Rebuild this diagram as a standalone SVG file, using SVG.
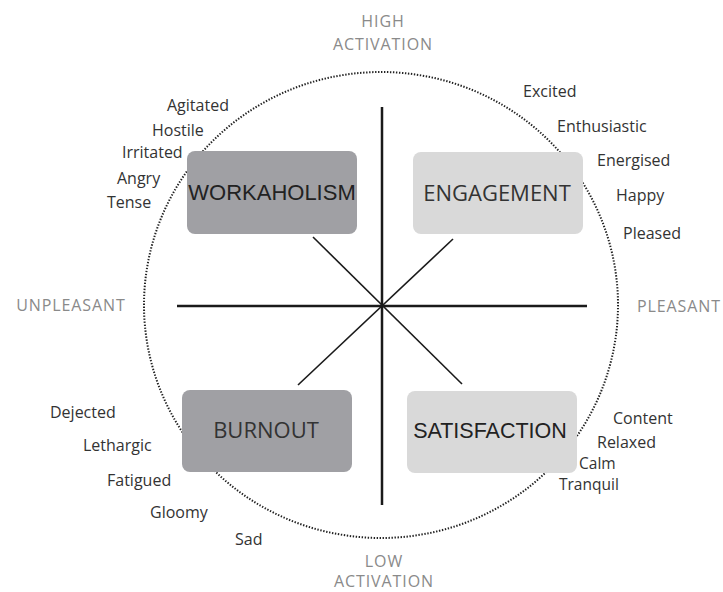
<svg xmlns="http://www.w3.org/2000/svg" width="723" height="592" viewBox="0 0 723 592">
<style>
.lbl{font-family:"Open Sans","Liberation Sans",sans-serif;font-size:16px;fill:#333}
.axl{font-family:"Open Sans","Liberation Sans",sans-serif;font-size:16px;fill:#8a8a8a;letter-spacing:0.9px;text-anchor:middle}
.dark{fill:#a0a0a4}
.light{fill:#d9d9d9}
.bt{font-size:22px;fill:#222;text-anchor:middle}
.arial{font-family:"Liberation Sans",Arial,sans-serif}
.hum{font-family:"Open Sans","Liberation Sans",sans-serif;fill:#333}
.axis{stroke:#1a1a1a;stroke-width:2.5;fill:none}
.diag{stroke:#1a1a1a;stroke-width:1.6;fill:none}
.dot{stroke:#222;stroke-width:2;fill:none;stroke-dasharray:1.4 1.6}
</style>
<rect width="723" height="592" fill="#fff"/>
<g id="connectors">
<ellipse class="dot" cx="381" cy="305" rx="237" ry="233"/>
<line class="axis" x1="382" y1="107" x2="382" y2="505"/>
<line class="axis" x1="177" y1="306" x2="587" y2="306"/>
<line class="diag" x1="313" y1="237" x2="462" y2="384"/>
<line class="diag" x1="453" y1="239" x2="298" y2="385"/>
</g>
<g id="workaholism">
<rect class="dark" x="187" y="151" width="170" height="83" rx="8"/>
<text class="bt arial" x="272" y="200">WORKAHOLISM</text>
</g>
<g id="engagement">
<rect class="light" x="413" y="152" width="170" height="82" rx="8"/>
<text class="bt hum" x="497" y="201">ENGAGEMENT</text>
</g>
<g id="burnout">
<rect class="dark" x="182" y="390" width="170" height="82" rx="8"/>
<text class="bt hum" x="266" y="438">BURNOUT</text>
</g>
<g id="satisfaction">
<rect class="light" x="407" y="391" width="170" height="82" rx="8"/>
<text class="bt arial" x="490" y="438" style="font-size:21.5px">SATISFACTION</text>
</g>
<g id="axis-labels">
<text class="axl" x="383" y="27">HIGH</text>
<text class="axl" x="383" y="50">ACTIVATION</text>
<text class="axl" x="384" y="567">LOW</text>
<text class="axl" x="384" y="587">ACTIVATION</text>
<text class="axl" x="71" y="311">UNPLEASANT</text>
<text class="axl" x="679" y="312">PLEASANT</text>
</g>
<g id="words">
<text class="lbl" x="167" y="111">Agitated</text>
<text class="lbl" x="152" y="136">Hostile</text>
<text class="lbl" x="122" y="158">Irritated</text>
<text class="lbl" x="117" y="184">Angry</text>
<text class="lbl" x="107" y="208">Tense</text>
<text class="lbl" x="523" y="97">Excited</text>
<text class="lbl" x="557" y="132">Enthusiastic</text>
<text class="lbl" x="597" y="166">Energised</text>
<text class="lbl" x="616" y="201">Happy</text>
<text class="lbl" x="623" y="239">Pleased</text>
<text class="lbl" x="613" y="424">Content</text>
<text class="lbl" x="597" y="448">Relaxed</text>
<text class="lbl" x="579" y="469" style="font-size:15.5px">Calm</text>
<text class="lbl" x="559" y="490" style="font-size:15.5px">Tranquil</text>
<text class="lbl" x="50" y="418">Dejected</text>
<text class="lbl" x="83" y="451">Lethargic</text>
<text class="lbl" x="107" y="486">Fatigued</text>
<text class="lbl" x="150" y="518">Gloomy</text>
<text class="lbl" x="235" y="545">Sad</text>
</g>
</svg>
